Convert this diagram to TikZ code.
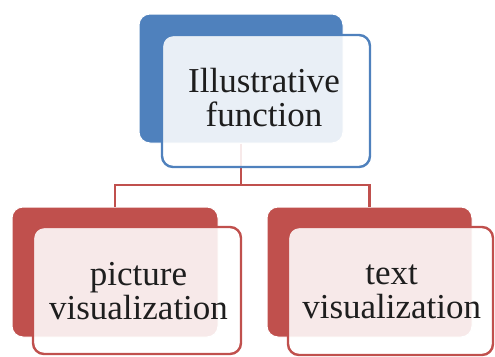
\documentclass[tikz,border=0pt]{standalone}
\usepackage{fontspec}
\setmainfont{Liberation Serif}
\definecolor{sblue}{HTML}{4F81BD}
\definecolor{sred}{HTML}{C0504D}
\definecolor{txt}{HTML}{1E1E1E}
\begin{document}
\begin{tikzpicture}[x=1pt,y=-1pt,
  backbox/.style={rectangle,rounded corners=11pt,draw=white,line width=1pt,inner sep=0pt},
  frontbox/.style={rectangle,rounded corners=11pt,line width=2.4pt,fill=white,fill opacity=0.88,inner sep=0pt},
  lbl/.style={font=\fontsize{35}{34}\selectfont,text=txt,align=center,inner sep=0pt},
  conn/.style={draw=sred,line width=2.5pt}]
\useasboundingbox (0,0) rectangle (495,356);
% back boxes
\node[backbox,fill=sblue,minimum width=204pt,minimum height=129pt] (tback) at (241,78.5) {};
\node[backbox,fill=sred,minimum width=206pt,minimum height=130pt] (lback) at (115,272) {};
\node[backbox,fill=sred,minimum width=205pt,minimum height=130pt] (rback) at (369.5,272) {};
% connectors
\coordinate (j) at (241,185);
\draw[conn] (tback.south) -- (j) -| (lback.north);
\draw[conn] (j) -| (rback.north);
% front boxes
\node[frontbox,draw=sblue,minimum width=208pt,minimum height=132pt] (tfront) at (266,101) {};
\node[frontbox,draw=sred,minimum width=208pt,minimum height=127pt] (lfront) at (137,290.5) {};
\node[frontbox,draw=sred,minimum width=205pt,minimum height=128pt] (rfront) at (390.5,291) {};
% labels
\node[lbl] (ttext) at (264,98) {Illustrative\\function};
\node[lbl] (ltext) at (138.5,291) {picture\\visualization};
\node[lbl] (rtext) at (391.7,291.5) {text\\visualization};
\end{tikzpicture}
\end{document}
